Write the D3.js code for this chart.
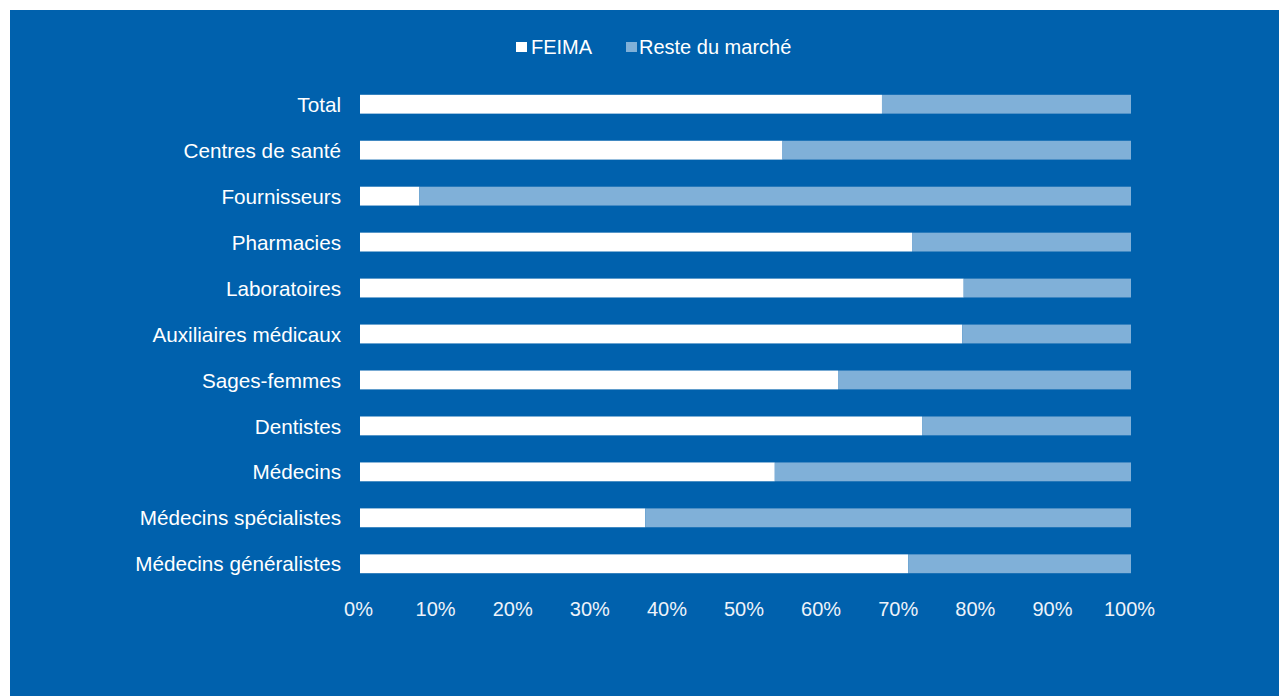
<!DOCTYPE html>
<html>
<head>
<meta charset="utf-8">
<script src="https://cdn.jsdelivr.net/npm/d3@7"></script>
<style>
  body { margin: 0; background: #fff; }
  svg { display: block; font-family: "Liberation Sans", Arial, sans-serif; }
</style>
</head>
<body>
<div id="chart"></div>
<script>
var categories = ["Total", "Centres de santé", "Fournisseurs", "Pharmacies", "Laboratoires",
    "Auxiliaires médicaux", "Sages-femmes", "Dentistes", "Médecins",
    "Médecins spécialistes", "Médecins généralistes"];
var feima = [67.7, 54.8, 7.7, 71.6, 78.3, 78.1, 62.0, 72.9, 53.8, 37.0, 71.1];
var reste = [32.3, 45.2, 92.3, 28.4, 21.7, 21.9, 38.0, 27.1, 46.2, 63.0, 28.9];
var seriesNames = ["FEIMA", "Reste du marché"];
var tickValues = [0, 10, 20, 30, 40, 50, 60, 70, 80, 90, 100];

var width = 1279,
    height = 696;
var bg = "#0061ad",
    colors = ["#ffffff", "#80b0d8"];

var svg = d3.select("#chart")
    .append("svg")
    .attr("width", width)
    .attr("height", height);

svg.append("rect")
    .attr("x", 10).attr("y", 10)
    .attr("width", width - 10).attr("height", height - 10)
    .attr("fill", bg);

var x = d3.scaleLinear().domain([0, 100]).range([360, 1131]);
var y = d3.scaleBand().domain(categories).range([81, 587]).paddingInner(0.59).paddingOuter(0.3);

var rows = categories.map(function (c, i) {
    return {name: c, feima: feima[i], reste: reste[i]};
});
var stack = d3.stack().keys(["feima", "reste"])(rows);

svg.selectAll(".serie")
    .data(stack)
    .enter()
    .append("g")
    .attr("class", "serie")
    .attr("fill", function (d, i) { return colors[i]; })
    .selectAll("rect")
    .data(function (d) { return d; })
    .enter()
    .append("rect")
    .attr("x", function (d) { return x(d[0]); })
    .attr("width", function (d) { return x(d[1]) - x(d[0]); })
    .attr("y", function (d) { return y(d.data.name); })
    .attr("height", y.bandwidth());

// category labels
var yAxis = svg.append("g")
    .attr("transform", "translate(341,1)")
    .call(d3.axisLeft(y).tickSize(0).tickPadding(0));
yAxis.select(".domain").remove();
yAxis.selectAll("text")
    .attr("fill", "#ffffff")
    .style("font-size", "20.7px")
    .style("font-family", "'Liberation Sans', Arial, sans-serif");

// percent axis
var xAxis = svg.append("g")
    .attr("transform", "translate(-2,602)")
    .call(d3.axisBottom(x).tickValues(tickValues).tickSize(0).tickPadding(0)
        .tickFormat(function (d) { return d + "%"; }));
xAxis.select(".domain").remove();
xAxis.selectAll("text")
    .attr("fill", "#eef3fa")
    .style("font-size", "20px")
    .style("font-family", "'Liberation Sans', Arial, sans-serif");

// legend
var legendX = [516, 626];
var textGap = [15, 13];
var legend = svg.selectAll(".legend")
    .data(seriesNames)
    .enter()
    .append("g")
    .attr("class", "legend")
    .attr("transform", function (d, i) { return "translate(" + legendX[i] + ",47)"; });
legend.append("rect")
    .attr("x", 0).attr("y", -5)
    .attr("width", 11).attr("height", 10)
    .attr("fill", function (d, i) { return colors[i]; });
legend.append("text")
    .attr("x", function (d, i) { return textGap[i]; })
    .attr("dy", "0.36em")
    .attr("fill", "#ffffff")
    .style("font-size", "20px")
    .text(function (d) { return d; });
</script>
</body>
</html>
